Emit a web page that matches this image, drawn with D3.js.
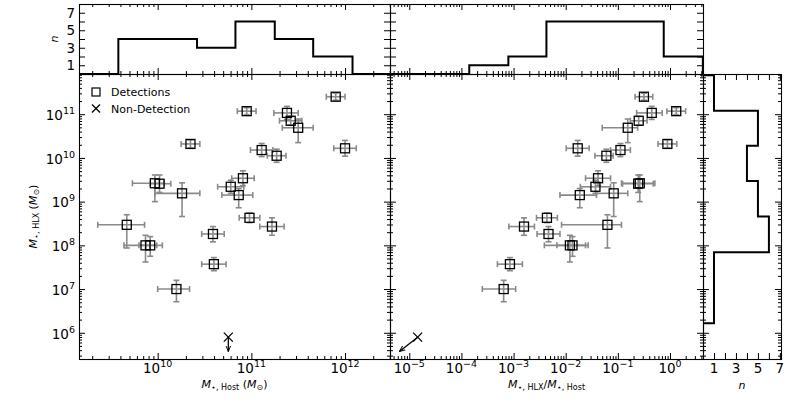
<!DOCTYPE html>
<html><head><meta charset="utf-8">
<script src="https://cdn.jsdelivr.net/npm/d3@7"></script>
<style>body{margin:0;background:#fff} text{font-family:"DejaVu Sans",sans-serif;fill:#000}</style>
</head><body><svg id="c" width="797" height="399"></svg>
<script>
// ---------- data (log10 values) ----------
const logHost  = [11.90,10.95,11.38,11.42,11.50,10.35,12.00,11.11,11.27,10.91,9.97,10.02,10.78,10.26,10.865,10.98,9.67,11.22,10.59,9.87,9.92,10.60,10.20];
const logHLX   = [11.40,11.07,11.03,10.85,10.69,10.32,10.22,10.18,10.05,9.535,9.42,9.41,9.34,9.19,9.15,8.63,8.47,8.43,8.26,8.00,8.00,7.57,7.00];
const hostErrLo= [0.10,0.10,0.14,0.12,0.17,0.10,0.12,0.12,0.10,0.12,0.24,0.10,0.14,0.29,0.18,0.11,0.31,0.13,0.12,0.23,0.12,0.13,0.20];
const hostErrHi= [0.10,0.10,0.12,0.12,0.16,0.10,0.12,0.12,0.10,0.12,0.10,0.12,0.14,0.19,0.15,0.11,0.19,0.13,0.12,0.12,0.13,0.13,0.14];
const hlxErrLo = [0.08,0.08,0.15,0.10,0.34,0.09,0.18,0.15,0.15,0.17,0.42,0.20,0.15,0.53,0.29,0.11,0.53,0.20,0.18,0.38,0.25,0.15,0.29];
const hlxErrHi = [0.08,0.08,0.15,0.10,0.20,0.09,0.18,0.15,0.15,0.17,0.19,0.20,0.15,0.24,0.15,0.11,0.23,0.20,0.17,0.23,0.20,0.15,0.20];
const logRatio = [-0.50,0.12,-0.35,-0.60,-0.81,-0.05,-1.77,-0.95,-1.22,-1.38,-0.58,-0.61,-1.43,-1.08,-1.73,-2.36,-1.20,-2.80,-2.33,-1.92,-1.87,-3.07,-3.19];
const ratioErrLo=[0.17,0.18,0.29,0.16,0.49,0.18,0.22,0.19,0.22,0.24,0.35,0.30,0.29,0.33,0.38,0.20,0.88,0.29,0.22,0.49,0.30,0.24,0.41];
const ratioErrHi=[0.17,0.18,0.20,0.16,0.19,0.18,0.22,0.19,0.13,0.24,0.29,0.29,0.29,0.27,0.32,0.20,0.27,0.20,0.22,0.30,0.30,0.24,0.23];
// non-detection (upper limit)
const ndHost = [10.754];
const ndHLX  = [5.90];
const ndRatio= [-4.84];
// histograms (log10 bin edges, counts)
const hostBinEdges  = [9.58,10.00,10.42,10.83,11.25,11.66,12.08];
const hostCounts    = [4,4,3,6,4,2];
const ratioBinEdges = [-3.85,-3.10,-2.37,-1.62,-0.87,-0.12,0.63];
const ratioCounts   = [1,2,6,6,6,2];
const hlxBinEdges   = [6.22,7.03,7.84,8.66,9.47,10.28,11.08,11.89];
const hlxCounts     = [1,1,6,5,4,5,1];
// tick labels
const histTickLabels = [1,3,5,7];
const histTicks = [1,2,3,4,5,6,7];

// ---------- layout ----------
const X0=79, X1=390, X2=703, X3=781, YT=4, Y0=74, Y1=359;
const svg = d3.select("#c");
const P = v => Math.pow(10, v);

const xHost  = d3.scaleLog().domain([P(9.16), P(12.48)]).range([X0, X1]);
const xRatio = d3.scaleLog().domain([P(-5.37), P(0.633)]).range([X1, X2]);
const yHLX   = d3.scaleLog().domain([P(5.40), P(11.92)]).range([Y1, Y0]);
const yN     = d3.scaleLinear().domain([0, 8]).range([Y0, YT]);
const xN     = d3.scaleLinear().domain([0, 7.1]).range([X2, X3]);

function logTicks(scale){
  const [a,b] = scale.domain();
  const e0 = Math.floor(Math.log10(a)), e1 = Math.ceil(Math.log10(b));
  const maj=[], min=[];
  for(let e=e0;e<=e1;e++){
    const v=P(e); if(v>=a&&v<=b) maj.push(v);
    for(let k=2;k<=9;k++){ const m=k*P(e); if(m>=a&&m<=b) min.push(m); }
  }
  return {maj, min};
}
const axes = {bottom:d3.axisBottom, top:d3.axisTop, left:d3.axisLeft, right:d3.axisRight};
function ticks(orient, scale, vals, size, tx, ty){
  svg.append("g").attr("transform",`translate(${tx},${ty})`).attr("color","#000")
    .call(axes[orient](scale).tickValues(vals).tickSize(-size).tickSizeOuter(0).tickFormat(""))
    .call(g=>g.select(".domain").remove())
    .selectAll("line").attr("stroke-width",1);
}
function logAxisTicks(orient, scale, tx, ty){
  const t = logTicks(scale);
  ticks(orient, scale, t.maj, 6, tx, ty);
  ticks(orient, scale, t.min, 3, tx, ty);
}

// clip paths
const defs = svg.append("defs");
function clip(id,x,y,w,h){ defs.append("clipPath").attr("id",id).append("rect").attr("x",x).attr("y",y).attr("width",w).attr("height",h); }
clip("cL",X0,Y0,X1-X0,Y1-Y0); clip("cM",X1,Y0,X2-X1,Y1-Y0); clip("cR",X2,Y0,X3-X2,Y1-Y0);
clip("cTL",X0,YT,X1-X0,Y0-YT); clip("cTM",X1,YT,X2-X1,Y0-YT);
defs.append("marker").attr("id","arr").attr("viewBox","0 0 10 10").attr("refX",10).attr("refY",5)
  .attr("markerWidth",6).attr("markerHeight",6).attr("markerUnits","userSpaceOnUse").attr("orient","auto")
  .append("path").attr("d","M0,1 L10,5 L0,9").attr("fill","none").attr("stroke","#000").attr("stroke-width",1.6);

// ---------- histograms ----------
const line = d3.line();
function topHist(scale, edges, counts, cid){
  const [a,b] = scale.domain();
  const pts = [[scale(a), yN(0)], [scale(P(edges[0])), yN(0)]];
  counts.forEach((c,i)=>{ pts.push([scale(P(edges[i])), yN(c)]); pts.push([scale(P(edges[i+1])), yN(c)]); });
  pts.push([scale(P(edges[edges.length-1])), yN(0)]); pts.push([scale(b), yN(0)]);
  svg.append("path").attr("clip-path",`url(#${cid})`).attr("d",line(pts)).attr("fill","none").attr("stroke","#000").attr("stroke-width",2);
}
topHist(xHost, hostBinEdges, hostCounts, "cTL");
topHist(xRatio, ratioBinEdges, ratioCounts, "cTM");
{
  const [a,b] = yHLX.domain();
  const pts = [[xN(0), yHLX(a)], [xN(0), yHLX(P(hlxBinEdges[0]))]];
  hlxCounts.forEach((c,i)=>{ pts.push([xN(c), yHLX(P(hlxBinEdges[i]))]); pts.push([xN(c), yHLX(P(hlxBinEdges[i+1]))]); });
  pts.push([xN(0), yHLX(P(hlxBinEdges[hlxBinEdges.length-1]))]); pts.push([xN(0), yHLX(b)]);
  svg.append("path").attr("clip-path","url(#cR)").attr("d",line(pts)).attr("fill","none").attr("stroke","#000").attr("stroke-width",2);
}

// ---------- scatter panels ----------
const EB = "#8a8a8a";
function scatter(xs, xv, xlo, xhi, cid){
  const g = svg.append("g").attr("clip-path",`url(#${cid})`);
  xv.forEach((lx,i)=>{
    const ly = logHLX[i];
    const cx = xs(P(lx)), cy = yHLX(P(ly));
    const xa = xs(P(lx - xlo[i])), xb = xs(P(lx + xhi[i]));
    const ya = yHLX(P(ly - hlxErrLo[i])), yb = yHLX(P(ly + hlxErrHi[i]));
    const eg = g.append("g").attr("stroke",EB).attr("stroke-width",1.6).attr("fill","none");
    eg.append("line").attr("x1",xa).attr("x2",xb).attr("y1",cy).attr("y2",cy);
    eg.append("line").attr("x1",cx).attr("x2",cx).attr("y1",ya).attr("y2",yb);
    [xa,xb].forEach(x=>eg.append("line").attr("x1",x).attr("x2",x).attr("y1",cy-3).attr("y2",cy+3));
    [ya,yb].forEach(y=>eg.append("line").attr("x1",cx-3).attr("x2",cx+3).attr("y1",y).attr("y2",y));
  });
  xv.forEach((lx,i)=>{
    const cx = xs(P(lx)), cy = yHLX(P(logHLX[i]));
    g.append("rect").attr("x",cx-4.5).attr("y",cy-4.5).attr("width",9).attr("height",9)
      .attr("fill","none").attr("stroke","#000").attr("stroke-width",1.3);
  });
}
scatter(xHost, logHost, hostErrLo, hostErrHi, "cL");
scatter(xRatio, logRatio, ratioErrLo, ratioErrHi, "cM");

function xMark(cx, cy, s){
  svg.append("path").attr("d",`M${cx-s},${cy-s}L${cx+s},${cy+s}M${cx-s},${cy+s}L${cx+s},${cy-s}`)
    .attr("stroke","#000").attr("stroke-width",1.3).attr("fill","none");
}
// non-detections with arrows
{
  const cx = xHost(P(ndHost[0])), cy = yHLX(P(ndHLX[0]));
  xMark(cx, cy, 4.5);
  svg.append("line").attr("x1",cx).attr("y1",cy).attr("x2",cx).attr("y2",yHLX(P(ndHLX[0]-0.33)))
    .attr("stroke","#000").attr("stroke-width",1.3).attr("marker-end","url(#arr)");
  const mx = xRatio(P(ndRatio[0]));
  xMark(mx, cy, 4.5);
  svg.append("line").attr("x1",mx).attr("y1",cy).attr("x2",xRatio(P(ndRatio[0]-0.35))).attr("y2",yHLX(P(ndHLX[0]-0.33)))
    .attr("stroke","#000").attr("stroke-width",1.3).attr("marker-end","url(#arr)");
}

// ---------- ticks ----------
logAxisTicks("bottom", xHost, 0, Y1); logAxisTicks("top", xHost, 0, Y0);
logAxisTicks("left", yHLX, X0, 0); logAxisTicks("right", yHLX, X1, 0);
logAxisTicks("bottom", xRatio, 0, Y1); logAxisTicks("top", xRatio, 0, Y0);
logAxisTicks("left", yHLX, X1, 0); logAxisTicks("right", yHLX, X2, 0);
logAxisTicks("left", yHLX, X2, 0); logAxisTicks("right", yHLX, X3, 0);
ticks("bottom", xN, histTicks, 6, 0, Y1); ticks("top", xN, histTicks, 6, 0, Y0);
logAxisTicks("bottom", xHost, 0, Y0); logAxisTicks("top", xHost, 0, YT);
logAxisTicks("bottom", xRatio, 0, Y0); logAxisTicks("top", xRatio, 0, YT);
ticks("left", yN, histTicks, 6, X0, 0); ticks("right", yN, histTicks, 6, X1, 0);
ticks("left", yN, histTicks, 6, X1, 0); ticks("right", yN, histTicks, 6, X2, 0);

// frames
[[X0,Y0,X1,Y1],[X1,Y0,X2,Y1],[X2,Y0,X3,Y1],[X0,YT,X1,Y0],[X1,YT,X2,Y0]].forEach(([a,b,c,d])=>
  svg.append("rect").attr("x",a+0.5).attr("y",b+0.5).attr("width",c-a).attr("height",d-b)
    .attr("fill","none").attr("stroke","#000").attr("stroke-width",1.1));

// ---------- tick labels ----------
const FS = 13.5, SS = 9.5;
function powLabel(x, y, exp, anchor){
  const t = svg.append("text").attr("x",x).attr("y",y).attr("text-anchor",anchor).attr("font-size",FS);
  t.append("tspan").text("10");
  t.append("tspan").attr("font-size",SS).attr("dy",-6).text(exp < 0 ? "\u2212"+(-exp) : String(exp));
}
logTicks(xHost).maj.forEach(v=>powLabel(xHost(v), 373, Math.round(Math.log10(v)), "middle"));
logTicks(xRatio).maj.forEach(v=>powLabel(xRatio(v), 373, Math.round(Math.log10(v)), "middle"));
logTicks(yHLX).maj.forEach(v=>powLabel(75, yHLX(v)+5.8, Math.round(Math.log10(v)), "end"));
histTickLabels.forEach(v=>svg.append("text").attr("x",75).attr("y",yN(v)+4.9).attr("text-anchor","end").attr("font-size",FS).text(v));
histTickLabels.forEach(v=>svg.append("text").attr("x",xN(v)).attr("y",373).attr("text-anchor","middle").attr("font-size",FS).text(v));

// ---------- axis labels ----------
function massLabel(sel, sub, withUnit){
  sel.append("tspan").attr("font-style","italic").text("M");
  sel.append("tspan").attr("font-size",8).attr("dy",2).text("\u22c6, "+sub);
  if(withUnit){
    sel.append("tspan").attr("dy",-2).text(" (");
    sel.append("tspan").attr("font-style","italic").text("M");
    sel.append("tspan").attr("font-size",8).attr("dy",2).text("\u2299");
    sel.append("tspan").attr("dy",-2).text(")");
  }
}
{
  const t = svg.append("text").attr("x",(X0+X1)/2).attr("y",388).attr("text-anchor","middle").attr("font-size",11);
  massLabel(t, "Host", true);
  const t2 = svg.append("text").attr("x",(X1+X2)/2).attr("y",388).attr("text-anchor","middle").attr("font-size",11);
  t2.append("tspan").attr("font-style","italic").text("M");
  t2.append("tspan").attr("font-size",8).attr("dy",2).text("\u22c6, HLX");
  t2.append("tspan").attr("dy",-2).text("/");
  t2.append("tspan").attr("font-style","italic").text("M");
  t2.append("tspan").attr("font-size",8).attr("dy",2).text("\u22c6, Host");
  const t3 = svg.append("text").attr("transform",`translate(37,${(Y0+Y1)/2}) rotate(-90)`).attr("text-anchor","middle").attr("font-size",11);
  massLabel(t3, "HLX", true);
  svg.append("text").attr("transform",`translate(58,${(YT+Y0)/2}) rotate(-90)`).attr("text-anchor","middle")
    .attr("font-size",11).attr("font-style","italic").text("n");
  svg.append("text").attr("x",(X2+X3)/2).attr("y",389).attr("text-anchor","middle")
    .attr("font-size",11).attr("font-style","italic").text("n");
}

// ---------- legend ----------
svg.append("rect").attr("x",92).attr("y",88).attr("width",8).attr("height",8).attr("fill","none").attr("stroke","#000").attr("stroke-width",1.2);
svg.append("text").attr("x",111).attr("y",96).attr("font-size",11).text("Detections");
xMark(96, 108.5, 4);
svg.append("text").attr("x",111).attr("y",112.5).attr("font-size",11).text("Non-Detection");
</script></body></html>
